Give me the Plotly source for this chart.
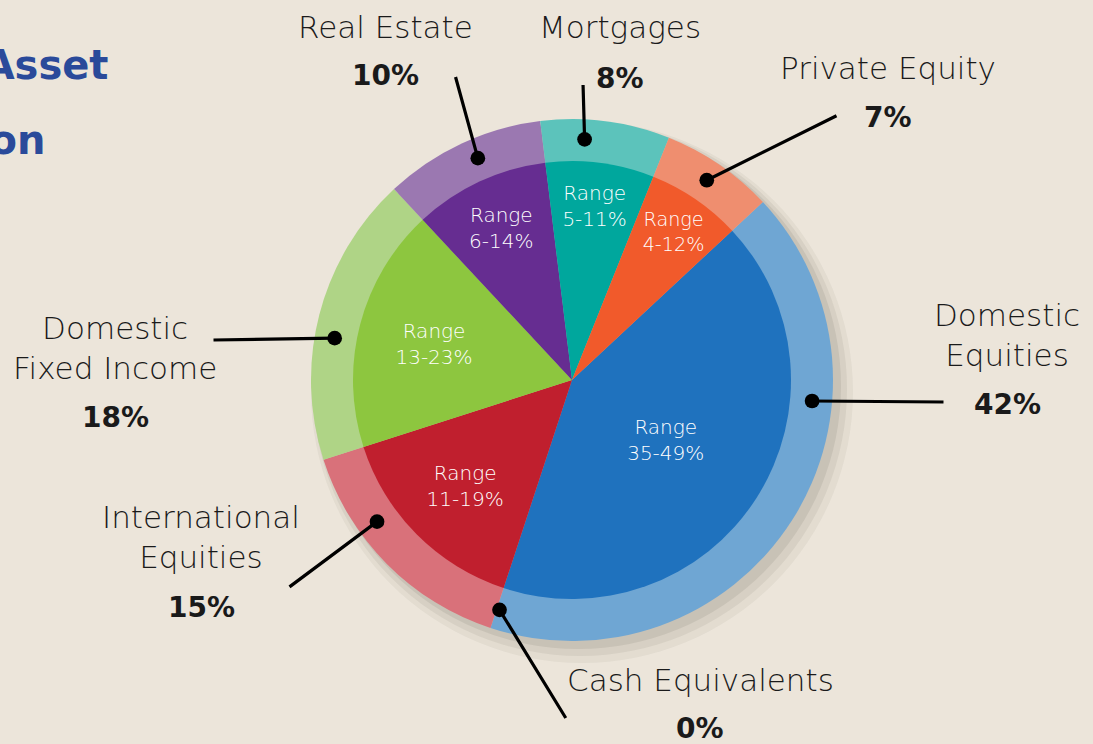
import math
import plotly.graph_objects as go

# ---------------- data ----------------
categories = ["Domestic Equities", "Cash Equivalents", "International Equities",
              "Domestic Fixed Income", "Real Estate", "Mortgages", "Private Equity"]
label_names = ["Domestic<br>Equities", "Cash Equivalents", "International<br>Equities",
               "Domestic<br>Fixed Income", "Real Estate", "Mortgages", "Private Equity"]
allocation = [42, 0, 15, 18, 10, 8, 7]
range_low = [35, 0, 11, 13, 6, 5, 4]
range_high = [49, 0, 19, 23, 14, 11, 12]

inner_colors = ["#1f72be", "#8a8a8a", "#c01f2e", "#8dc63f", "#662d91", "#00a79d", "#f15a2b"]
outer_colors = ["#6fa6d3", "#b0b0b0", "#d9717a", "#afd486", "#9b78b1", "#5cc3bb", "#ef8e6f"]

# ---------------- layout constants ----------------
W, H = 1093, 744
CX, CY = 572, 380          # pie centre (px)
R_OUT, R_IN = 261, 219     # ring / inner pie radii (px)
START = 47                 # first slice starts 47deg clockwise from 12 o'clock
FONT = "DejaVu Sans"
BG = "#ece5da"

# leader anchor angle (deg clockwise from top), leader tail (px), name pos, pct pos
leader = {
    "Domestic Equities":     (95,  (945, 402), (1007, 335), (1007, 405)),
    "Cash Equivalents":      (197.5, (567, 720), (700, 680), (700, 728)),
    "International Equities": (234, (288, 588), (201, 537), (201, 607)),
    "Domestic Fixed Income": (280, (212, 340), (115, 348), (115, 418)),
    "Real Estate":           (337, (455, 75), (385, 27), (385, 75)),
    "Mortgages":             (3,   (583, 83), (620, 27), (620, 78)),
    "Private Equity":        (34,  (838, 115), (888, 68), (888, 118)),
}


def px2paper(x, y):
    return x / W, 1 - y / H


def domain(cx, cy, r):
    return dict(x=[(cx - r) / W, (cx + r) / W], y=[1 - (cy + r) / H, 1 - (cy - r) / H])


fig = go.Figure()

# soft shadow (offset to the lower right)
for dr, dx, dy, a in [(10, 10, 12, 0.05), (6, 8, 9, 0.07), (2, 6, 6, 0.09)]:
    fig.add_trace(go.Pie(values=[1], marker=dict(colors=[f"rgba(60,50,40,{a})"]),
                         domain=domain(CX + dx, CY + dy, R_OUT + dr), sort=False,
                         textinfo="none", hoverinfo="skip", showlegend=False))

# outer ring (lighter)
fig.add_trace(go.Pie(labels=categories, values=allocation, sort=False,
                     direction="clockwise", rotation=START,
                     marker=dict(colors=outer_colors, line=dict(width=0)),
                     domain=domain(CX, CY, R_OUT), textinfo="none",
                     hoverinfo="label+percent", showlegend=False))

# inner pie with ranges
range_text = [f"Range<br>{lo}-{hi}%" if v > 0 else "" for lo, hi, v in
              zip(range_low, range_high, allocation)]
fig.add_trace(go.Pie(labels=categories, values=allocation, sort=False,
                     direction="clockwise", rotation=START,
                     marker=dict(colors=inner_colors, line=dict(width=0)),
                     domain=domain(CX, CY, R_IN), text=range_text, textinfo="text",
                     textposition="inside", insidetextorientation="horizontal",
                     textfont=dict(family=FONT, size=20, color="white", weight=200),
                     hoverinfo="label+percent", showlegend=False))

annotations = []
R_DOT = (R_OUT + R_IN) / 2 + 1
for cat, name, val in zip(categories, label_names, allocation):
    ang, tail, npos, ppos = leader[cat]
    a = math.radians(ang)
    dx = CX + R_DOT * math.sin(a)
    dy = CY - R_DOT * math.cos(a)
    x, y = px2paper(dx, dy)
    annotations.append(dict(x=x, y=y, xref="paper", yref="paper", text=" ",
                            font=dict(size=1), showarrow=True, arrowhead=6,
                            arrowsize=1.15, arrowwidth=3.2, arrowcolor="black",
                            ax=tail[0] - dx, ay=tail[1] - dy))
    nx, ny = px2paper(*npos)
    annotations.append(dict(x=nx, y=ny, xref="paper", yref="paper", text=name,
                            showarrow=False, xanchor="center", yanchor="middle",
                            font=dict(family=FONT, size=31, color="#1a1a1a", weight=200)))
    qx, qy = px2paper(*ppos)
    annotations.append(dict(x=qx, y=qy, xref="paper", yref="paper", text=f"{val}%",
                            showarrow=False, xanchor="center", yanchor="middle",
                            font=dict(family=FONT, size=28, color="#1a1a1a", weight=700)))

# title (partially cut off at the left edge, as in the reference)
for txt, (tx, ty) in [("Target Asset", (110, 65)), ("Allocation", (47, 140))]:
    x, y = px2paper(tx, ty)
    annotations.append(dict(x=x, y=y, xref="paper", yref="paper", text=txt,
                            showarrow=False, xanchor="right", yanchor="middle",
                            font=dict(family=FONT, size=40, color="#2a4a9a", weight=700)))

fig.update_layout(width=W, height=H, margin=dict(l=0, r=0, t=0, b=0),
                  paper_bgcolor=BG, plot_bgcolor=BG,
                  annotations=annotations, showlegend=False)

fig.write_html("out.html", config={"displayModeBar": False},
               post_script="document.body.style.margin='0';"
                           "document.body.style.background='%s';" % BG)
